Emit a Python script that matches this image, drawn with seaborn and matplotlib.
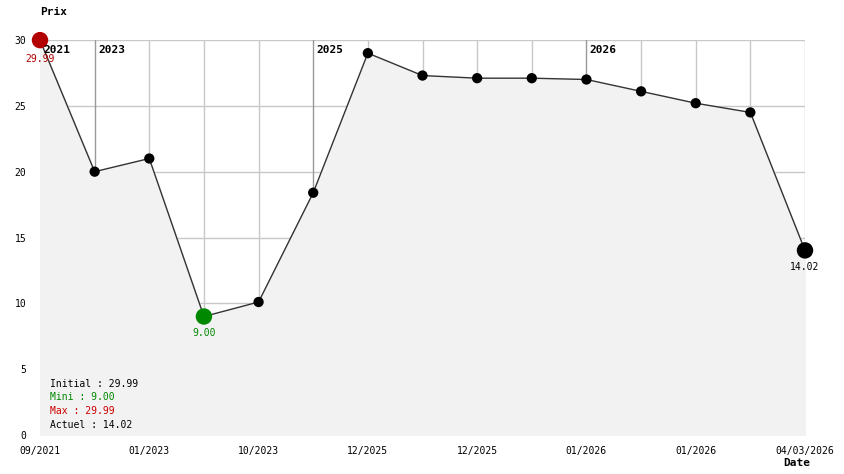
import matplotlib
matplotlib.use("Agg")
import matplotlib.pyplot as plt
import seaborn as sns
import pandas as pd

# Data
prix = [29.99, 20.0, 21.0, 9.00, 10.1, 18.4, 29.0, 27.3, 27.1, 27.1, 27.0, 26.1, 25.2, 24.5, 14.02]
tick_labels = ["09/2021", "01/2023", "10/2023", "12/2025", "12/2025", "01/2026", "01/2026", "04/03/2026"]
tick_index = [0, 2, 4, 6, 8, 10, 12, 14]
year_labels = ["2021", "2023", "2025", "2026"]
year_index = [0, 1, 5, 10]

df = pd.DataFrame({"i": range(len(prix)), "prix": prix})
i_min = df["prix"].idxmin()
i_max = df["prix"].idxmax()
i_last = len(prix) - 1

sns.set_style("white")
plt.rcParams["font.family"] = ["DejaVu Sans Mono"]
plt.rcParams["text.color"] = "black"
plt.rcParams["xtick.color"] = "black"
plt.rcParams["ytick.color"] = "black"

fig = plt.figure(figsize=(8.44, 4.74), dpi=100)
ax = fig.add_axes([40 / 844, 1 - 435 / 474, 765 / 844, 395 / 474])

# Grid
for y in [5, 10, 15, 20, 25, 30]:
    ax.axhline(y, color="#c8c8c8", lw=1, zorder=0)
for x in df["i"]:
    c = "#999999" if x in year_index else "#c8c8c8"
    ax.axvline(x, color=c, lw=1, zorder=0)

ax.fill_between(df["i"], df["prix"], 0, color="#f2f2f2", zorder=1)
sns.lineplot(data=df, x="i", y="prix", color="#333333", lw=1, ax=ax, zorder=2)

small = df.drop(index=[0, i_min, i_last])
sns.scatterplot(data=small, x="i", y="prix", color="black", s=55, edgecolor="none",
                ax=ax, zorder=3, clip_on=False)
sns.scatterplot(data=df.loc[[0]], x="i", y="prix", color="#b30000", s=140, edgecolor="none",
                ax=ax, zorder=4, clip_on=False)
sns.scatterplot(data=df.loc[[i_min]], x="i", y="prix", color="#008800", s=140, edgecolor="none",
                ax=ax, zorder=4, clip_on=False)
sns.scatterplot(data=df.loc[[i_last]], x="i", y="prix", color="black", s=140, edgecolor="none",
                ax=ax, zorder=4, clip_on=False)

# Value labels
ax.annotate(f"{prix[0]:.2f}", (0, prix[0]), xytext=(0, -10), textcoords="offset points",
            ha="center", va="top", fontsize=7, color="#b30000", zorder=5, annotation_clip=False)
ax.annotate(f"{prix[i_min]:.2f}", (i_min, prix[i_min]), xytext=(0, -8), textcoords="offset points",
            ha="center", va="top", fontsize=7, color="#008800", zorder=5, annotation_clip=False)
ax.annotate(f"{prix[i_last]:.2f}", (i_last, prix[i_last]), xytext=(0, -8), textcoords="offset points",
            ha="center", va="top", fontsize=7, color="black", zorder=5, annotation_clip=False)

# Year labels
for yl, xi in zip(year_labels, year_index):
    ax.text(xi + 0.06, 29.65, yl, fontsize=8, fontweight="bold", ha="left", va="top", zorder=5)

# Summary block
summary = [
    (f"Initial : {prix[0]:.2f}", "black"),
    (f"Mini : {prix[i_min]:.2f}", "#008800"),
    (f"Max : {prix[i_max]:.2f}", "#cc0000"),
    (f"Actuel : {prix[i_last]:.2f}", "black"),
]
for k, (t, c) in enumerate(summary):
    ax.text(0.18, 3.9 - k * 1.05, t, fontsize=7, color=c, ha="left", va="center", zorder=5)

ax.set_xlim(0, len(prix) - 1)
ax.set_ylim(0, 30)
ax.set_yticks([0, 5, 10, 15, 20, 25, 30])
ax.set_xticks(tick_index)
ax.set_xticklabels(tick_labels)
ax.tick_params(axis="both", labelsize=7, length=0)
ax.tick_params(axis="x", pad=8)
ax.tick_params(axis="y", pad=10)
ax.set_xlabel("")
ax.set_ylabel("")
sns.despine(ax=ax, left=True, bottom=True)

fig.text(40 / 844, 1 - 12 / 474, "Prix", fontsize=8, fontweight="bold", ha="left", va="center")
fig.text(783 / 844, 1 - 463 / 474, "Date", fontsize=8, fontweight="bold", ha="left", va="center")

fig.savefig("out.png", dpi=100)
